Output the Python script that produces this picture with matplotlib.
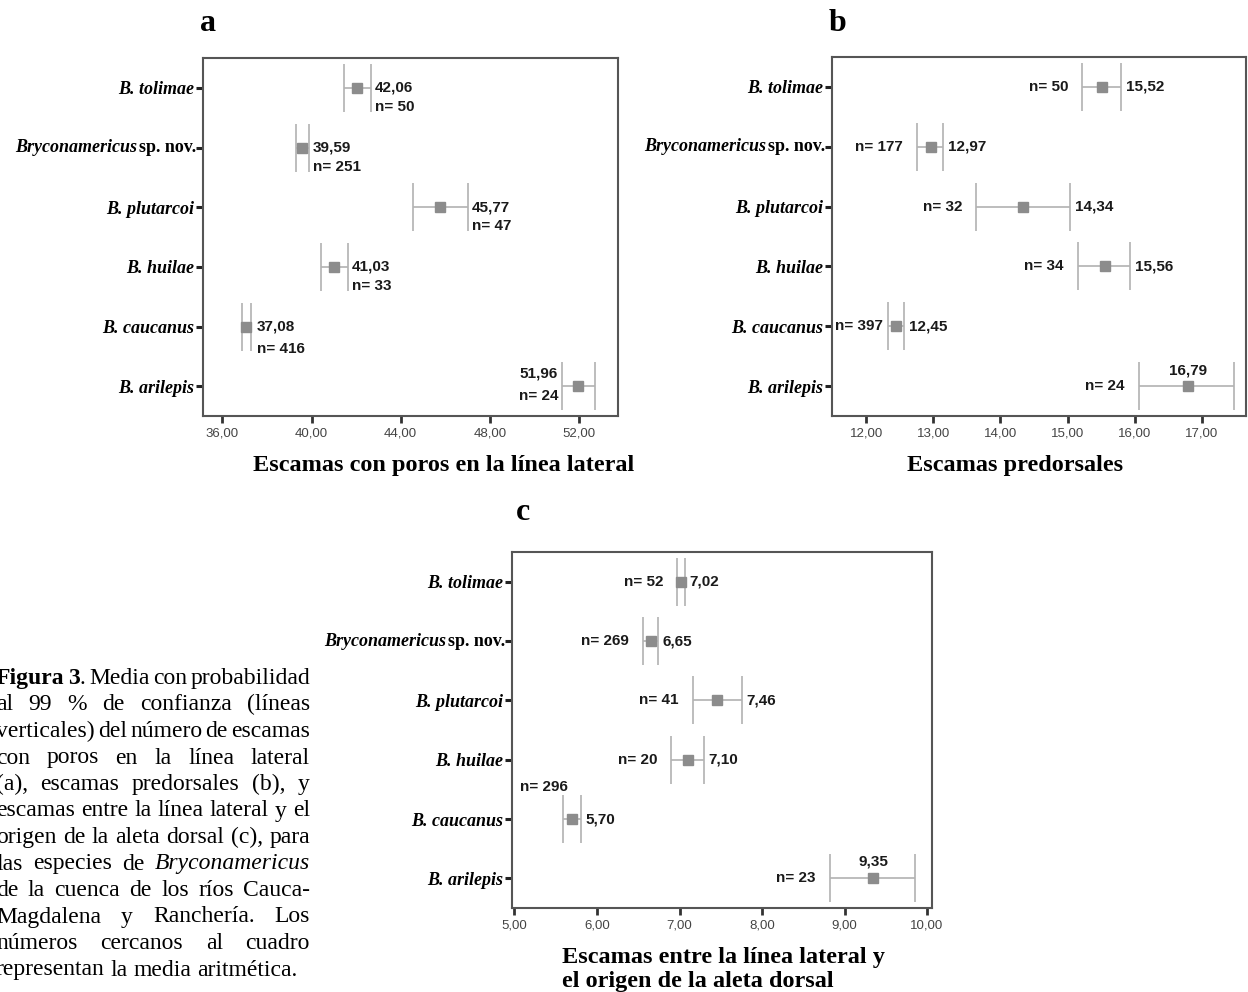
import re
import matplotlib
matplotlib.use("Agg")
import matplotlib.pyplot as plt
from matplotlib.offsetbox import TextArea, HPacker, AnnotationBbox

# Species, top to bottom
species = ["B. tolimae", "Bryconamericus sp. nov.", "B. plutarcoi",
           "B. huilae", "B. caucanus", "B. arilepis"]

# (a) Escamas con poros en la linea lateral
a_mean = [42.06, 39.59, 45.77, 41.03, 37.08, 51.96]
a_low = [41.46, 39.31, 44.54, 40.43, 36.87, 51.24]
a_high = [42.65, 39.89, 47.03, 41.62, 37.27, 52.73]
a_n = [50, 251, 47, 33, 416, 24]
a_ticks = [36, 40, 44, 48, 52]

# (b) Escamas predorsales
b_mean = [15.52, 12.97, 14.34, 15.56, 12.45, 16.79]
b_low = [15.22, 12.75, 13.64, 15.15, 12.32, 16.06]
b_high = [15.79, 13.14, 15.03, 15.93, 12.56, 17.48]
b_n = [50, 177, 32, 34, 397, 24]
b_ticks = [12, 13, 14, 15, 16, 17]

# (c) Escamas entre la linea lateral y el origen de la aleta dorsal
c_mean = [7.02, 6.65, 7.46, 7.10, 5.70, 9.35]
c_low = [6.97, 6.56, 7.16, 6.90, 5.59, 8.82]
c_high = [7.07, 6.74, 7.76, 7.30, 5.81, 9.85]
c_n = [52, 269, 41, 20, 296, 23]
c_ticks = [5, 6, 7, 8, 9, 10]

caption = [
    "**Figura** **3**. Media con probabilidad",
    "al 99 % de confianza (líneas",
    "verticales) del número de escamas",
    "con poros en la línea lateral",
    "(a), escamas predorsales (b), y",
    "escamas entre la línea lateral y el",
    "origen de la aleta dorsal (c), para",
    "las especies de _Bryconamericus_",
    "de la cuenca de los ríos Cauca-",
    "Magdalena y Ranchería. Los",
    "números cercanos al cuadro",
    "representan la media aritmética.",
]

SERIF = "Liberation Serif"
SANS = "Liberation Sans"
W, H = 1248, 992
fig = plt.figure(figsize=(W / 100, H / 100), dpi=100)


def px_box(left, top, right, bottom):
    return [left / W, 1 - bottom / H, (right - left) / W, (bottom - top) / H]


def fmt(v):
    return f"{v:.2f}".replace(".", ",")


def label(ax, x, y, text, dx, dy, ha):
    ax.annotate(text, (x, y), xytext=(dx * 0.72, -dy * 0.72),
                textcoords="offset points", ha=ha, va="center",
                fontsize=11, fontweight="bold", family=SANS, color="#1a1a1a")


def draw_panel(box, mean, low, high, xlim, ticks):
    ax = fig.add_axes(box)
    y = list(range(len(species)))
    xerr = [[m - l for m, l in zip(mean, low)], [h - m for m, h in zip(mean, high)]]
    ax.errorbar(mean, y, xerr=xerr, fmt="s", color="#8c8c8c", ms=6.5,
                mec="#8c8c8c", ecolor="#b2b2b2", elinewidth=1.2,
                capsize=17.3, capthick=1.2, zorder=3)
    ax.set_xlim(xlim)
    ax.set_ylim(5.5, -0.5)
    ax.set_xticks(ticks)
    ax.set_xticklabels([fmt(t) for t in ticks], family=SANS, fontsize=9.5,
                       color="#444444")
    ax.set_yticks(y)
    ax.set_yticklabels(["" if "sp. nov." in s else s for s in species],
                       family=SERIF, fontsize=13, fontweight="bold",
                       fontstyle="italic")
    for sp in ax.spines.values():
        sp.set_color("#555555")
        sp.set_linewidth(1.5)
    ax.tick_params(axis="y", length=5, width=2.2, color="#222222", pad=1.5)
    ax.tick_params(axis="x", length=5, width=2, color="#333333", pad=3)

    # mixed style label for the new species
    parts = HPacker(children=[
        TextArea("Bryconamericus", textprops=dict(family=SERIF, fontsize=13,
                                                   fontweight="bold", fontstyle="italic")),
        TextArea("sp. nov.", textprops=dict(family=SERIF, fontsize=13,
                                             fontweight="bold")),
    ], align="baseline", pad=0, sep=1)
    ab = AnnotationBbox(parts, (0, 1), xycoords=ax.get_yaxis_transform(),
                        xybox=(-5.2, 0), boxcoords="offset points",
                        box_alignment=(1, 0.5), frameon=False)
    ax.add_artist(ab)
    return ax


# panel a
ax_a = draw_panel(px_box(203, 58, 618, 416), a_mean, a_low, a_high, (35.13, 53.75), a_ticks)
for i in range(len(species)):
    if i == 5:
        label(ax_a, a_low[i], i, fmt(a_mean[i]), -4, -13, "right")
        label(ax_a, a_low[i], i, f"n= {a_n[i]}", -4, 10, "right")
    else:
        dx = 6 if i == 4 else 4
        dn = 22 if i == 4 else 19
        label(ax_a, a_high[i], i, fmt(a_mean[i]), dx, 0, "left")
        label(ax_a, a_high[i], i, f"n= {a_n[i]}", dx, dn, "left")

# panel b
ax_b = draw_panel(px_box(832, 57, 1246, 416), b_mean, b_low, b_high, (11.49, 17.66), b_ticks)
for i in range(len(species)):
    label(ax_b, b_low[i], i, f"n= {b_n[i]}", -5 if i == 4 else -14, 0, "right")
    if i == 5:
        label(ax_b, b_mean[i], i, fmt(b_mean[i]), 0, -16, "center")
    else:
        label(ax_b, b_high[i], i, fmt(b_mean[i]), 5, 0, "left")

# panel c
ax_c = draw_panel(px_box(512, 552, 932, 908), c_mean, c_low, c_high, (4.97, 10.06), c_ticks)
for i in range(len(species)):
    if i == 4:
        label(ax_c, c_low[i], i, f"n= {c_n[i]}", 5, -32, "right")
    else:
        label(ax_c, c_low[i], i, f"n= {c_n[i]}", -14, 0, "right")
    if i == 5:
        label(ax_c, c_mean[i], i, fmt(c_mean[i]), 0, -17, "center")
    else:
        label(ax_c, c_high[i], i, fmt(c_mean[i]), 4, 0, "left")

# panel letters
for letter, x, y in [("a", 208, 31), ("b", 838, 31), ("c", 523, 520)]:
    fig.text(x / W, 1 - y / H, letter, ha="center", va="baseline",
             family=SERIF, fontweight="bold", fontsize=23)

# axis titles
title_kw = dict(family=SERIF, fontweight="bold", fontsize=17.5, va="center")
fig.text(444 / W, 1 - 465 / H, "Escamas con poros en la línea lateral", ha="center", **title_kw)
fig.text(1015 / W, 1 - 465 / H, "Escamas predorsales", ha="center", **title_kw)
fig.text(562 / W, 1 - 957 / H, "Escamas entre la línea lateral y", ha="left", **title_kw)
fig.text(562 / W, 1 - 981 / H, "el origen de la aleta dorsal", ha="left", **title_kw)

# justified caption
renderer = fig.canvas.get_renderer()
cap_left, cap_right = -4, 310
cap_size = 17
space_px = 0.25 * cap_size / 72 * 100


def segments(word):
    out = []
    for tok in re.findall(r"\*\*.+?\*\*|_.+?_|[^*_]+", word):
        if tok.startswith("**"):
            out.append((tok[2:-2], "bold", "normal"))
        elif tok.startswith("_"):
            out.append((tok[1:-1], "normal", "italic"))
        else:
            out.append((tok, "normal", "normal"))
    return out


for k, line in enumerate(caption):
    base = 684 + 26.5 * k
    words = []
    for word in line.split(" "):
        arts = []
        for txt, wt, st in segments(word):
            t = fig.text(0, 1 - base / H, txt, family=SERIF, fontsize=cap_size,
                         fontweight=wt, fontstyle=st, va="baseline", ha="left")
            arts.append((t, t.get_window_extent(renderer).width))
        words.append(arts)
    widths = [sum(w for _, w in arts) for arts in words]
    if k < len(caption) - 1 and len(words) > 1:
        gap = (cap_right - cap_left - sum(widths)) / (len(words) - 1)
    else:
        gap = space_px
    x = cap_left
    for arts, wsum in zip(words, widths):
        xx = x
        for t, w in arts:
            t.set_x(xx / W)
            xx += w
        x += wsum + gap

fig.savefig("out.png", dpi=100)
